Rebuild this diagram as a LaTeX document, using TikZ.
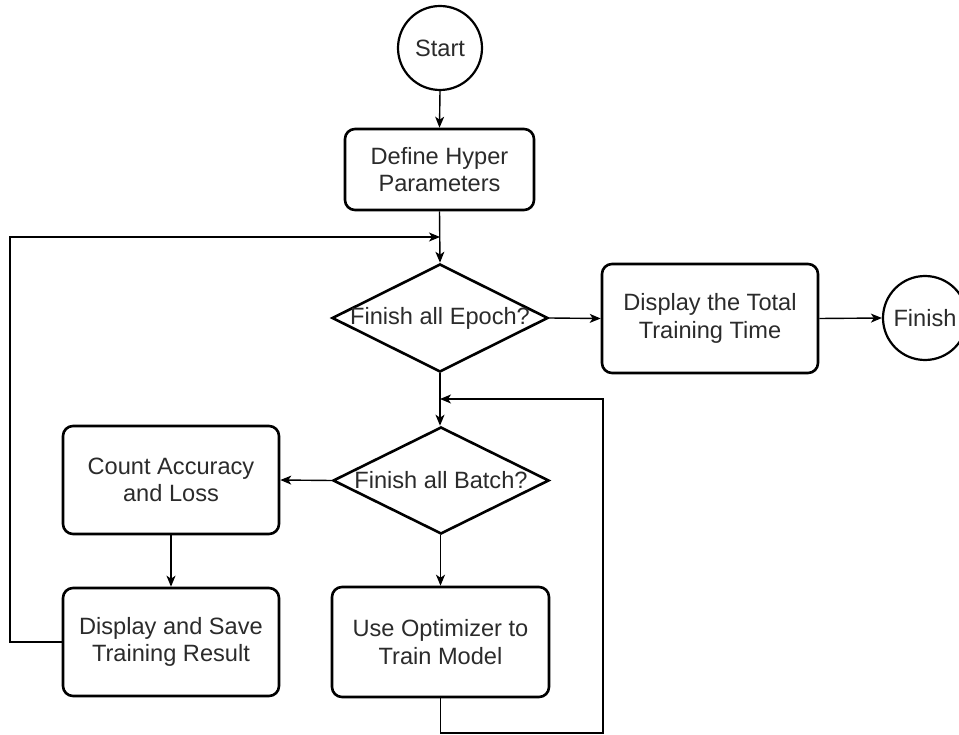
\documentclass[tikz,border=0pt]{standalone}
\usepackage{fontspec}
\setmainfont{Liberation Sans}
\usetikzlibrary{shapes.geometric,arrows.meta}
\definecolor{txtc}{HTML}{2B2B2B}
\tikzset{
  box/.style={draw=black, line width=2.6pt, rounded corners=10pt, minimum width=#1, inner sep=0pt, align=center, text=txtc, font=\fontsize{23.6}{27.5}\selectfont},
  box/.default=216pt,
  term/.style={draw=black, line width=2.2pt, circle, minimum size=84pt, inner sep=0pt, text=txtc, font=\fontsize{23.6}{27.5}\selectfont},
  dia/.style={draw=black, line width=2.6pt, diamond, minimum width=216pt, minimum height=108pt, inner sep=0pt},
  diatext/.style={inner sep=0pt, text=txtc, font=\fontsize{23.6}{27.5}\selectfont},
  arr/.style={draw=black, line width=1.4pt, -{Stealth[length=11pt,width=9pt,inset=3pt]}},
  ln/.style={draw=black, line width=1.4pt}
}
\begin{document}
\begin{tikzpicture}[x=1pt,y=-1pt]
\clip (0,0) rectangle (959,735);
\fill[white] (0,0) rectangle (959,735);
\node[term] (start) at (440,48) {Start};
\node[box=189pt, minimum height=81pt] (define) at (439.5,169.5) {Define Hyper\\Parameters};
\node[dia] (epoch) at (440,318) {};
\node[diatext] (epochT) at (epoch.center) {Finish all Epoch?};
\node[box, minimum height=109pt] (total) at (710,318.5) {Display the Total\\Training Time};
\node[term] (finish) at (925,318) {Finish};
\node[dia, minimum width=216pt, minimum height=107pt] (batch) at (441,480.5) {};
\node[diatext] (batchT) at (batch.center) {Finish all Batch?};
\node[box, minimum height=108pt] (count) at (171,480) {Count Accuracy\\and Loss};
\node[box, minimum height=108pt] (save) at (171,642) {Display and Save\\Training Result};
\node[box=217pt, minimum height=110pt] (opt) at (440.5,642) {Use Optimizer to\\Train Model};

\coordinate (l1) at (10,237);
\coordinate (l2) at (440,237);
\coordinate (r1) at (603,733);
\coordinate (r2) at (603,399);
\coordinate (r3) at (440,399);

\draw[arr] (start.south) -- (define.south |- define.north);
\draw[arr] (define.south) -- (epoch.north);
\draw[arr] (save.west) -| (l1) -- (l2);
\draw[arr] (epoch.east) -- (total.west);
\draw[arr] (total.east) -- (finish.west);
\draw[arr] (epoch.south) -- (epoch.south |- batch.north);
\draw[arr] (batch.west) -- (count.east);
\draw[arr] (count.south) -- (save.north);
\draw[arr] (opt.north |- batch.south) -- (opt.north);
\draw[arr] (opt.south) |- (r1) -- (r2) -- (r3);
\end{tikzpicture}
\end{document}
